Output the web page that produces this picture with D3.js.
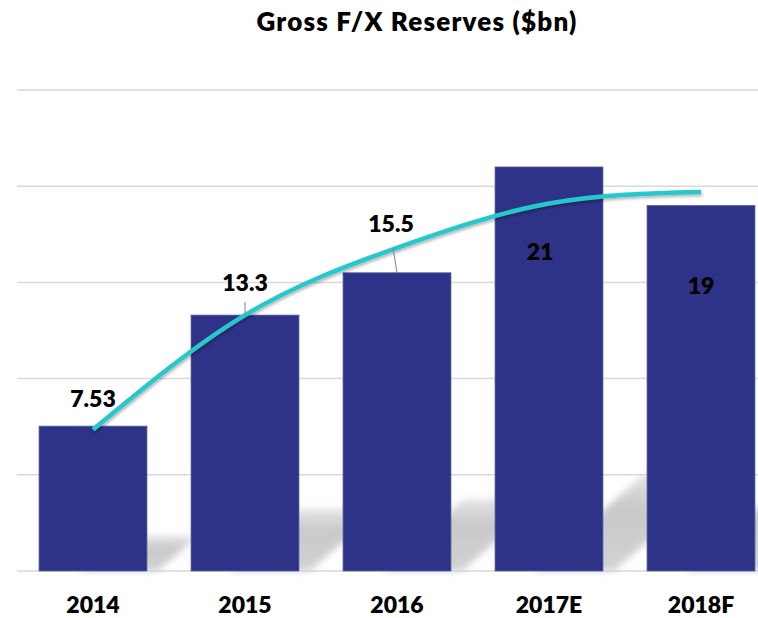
<!DOCTYPE html>
<html>
<head>
<meta charset="utf-8">
<script src="https://cdn.jsdelivr.net/npm/d3@7"></script>
<style>
  html, body { margin: 0; padding: 0; background: #fff; }
  svg { display: block; font-family: Lato, "Open Sans", sans-serif; }
</style>
</head>
<body>
<div id="chart"></div>
<script>
const width = 758;
const height = 618;

// data
const years = ["2014", "2015", "2016", "2017E", "2018F"];
const reserves = [7.53, 13.3, 15.5, 21, 19];
const valueLabels = ["7.53", "13.3", "15.5", "21", "19"];
const trend = [7.35, 13.3, 16.8, 19.1, 19.7];
const gridTicks = [0, 5, 10, 15, 20, 25];

const colors = {
  bar: "#2e3387",
  barEdge: "#5b60a6",
  trend: "#27c8cb",
  grid: "#d9d9d9",
  leader: "#7f7f7f"
};

const svg = d3.select("#chart")
  .append("svg")
  .attr("width", width)
  .attr("height", height);

const defs = svg.append("defs");

const grad = defs.append("linearGradient")
  .attr("id", "shadow-grad")
  .attr("x1", 0).attr("y1", 0).attr("x2", 0).attr("y2", 1);
grad.append("stop").attr("offset", "0%").attr("stop-color", "#cfcfcf").attr("stop-opacity", 0.6);
grad.append("stop").attr("offset", "35%").attr("stop-color", "#c9c9c9");
grad.append("stop").attr("offset", "100%").attr("stop-color", "#d2d2d2");

defs.append("filter")
  .attr("id", "blur")
  .attr("x", "-20%").attr("y", "-20%").attr("width", "140%").attr("height", "140%")
  .append("feGaussianBlur")
  .attr("stdDeviation", 3.5);

defs.append("filter")
  .attr("id", "line-shadow")
  .attr("x", "-5%").attr("y", "-20%").attr("width", "110%").attr("height", "140%")
  .append("feDropShadow")
  .attr("dx", 1).attr("dy", 2)
  .attr("stdDeviation", 1.5)
  .attr("flood-color", "#000")
  .attr("flood-opacity", 0.3);

const x = d3.scaleBand()
  .domain(years)
  .range([17, 777])
  .paddingInner(0.29)
  .paddingOuter(0.145);

const y = d3.scaleLinear()
  .domain([0, 25])
  .range([571, 90]);

const data = years.map((year, i) => ({
  year,
  value: reserves[i],
  label: valueLabels[i],
  trend: trend[i]
}));

// title
svg.append("text")
  .attr("x", 417)
  .attr("y", 31)
  .attr("text-anchor", "middle")
  .attr("font-size", 26)
  .attr("font-weight", 800)
  .attr("letter-spacing", 1.2)
  .attr("fill", "#000")
  .text("Gross F/X Reserves ($bn)");

// gridlines
svg.append("g")
  .selectAll("line")
  .data(gridTicks)
  .join("line")
  .attr("x1", 17)
  .attr("x2", width)
  .attr("y1", d => y(d))
  .attr("y2", d => y(d))
  .attr("stroke", colors.grid)
  .attr("stroke-width", 1.5);

// soft cast shadows behind the bars
svg.append("g")
  .attr("filter", "url(#blur)")
  .selectAll("path")
  .data(data)
  .join("path")
  .attr("fill", "url(#shadow-grad)")
  .attr("d", d => {
    const bw = x.bandwidth();
    const x0 = x(d.year) + bw * 0.35;
    const x1 = x(d.year) + bw * 1.1;
    const base = y(0);
    const h = (y(0) - y(d.value)) * 0.24;
    const dx = h * 1.15;
    return `M${x0},${base}L${x1},${base}L${x1 + dx},${base - h}L${x0 + dx},${base - h}Z`;
  });

// bars
svg.append("g")
  .selectAll("rect")
  .data(data)
  .join("rect")
  .attr("x", d => x(d.year))
  .attr("y", d => y(d.value))
  .attr("width", x.bandwidth())
  .attr("height", d => y(0) - y(d.value))
  .attr("fill", colors.bar)
  .attr("stroke", colors.barEdge)
  .attr("stroke-width", 0.8);

// trend line
const line = d3.line()
  .x(d => x(d.year) + x.bandwidth() / 2)
  .y(d => y(d.trend))
  .curve(d3.curveNatural);

svg.append("path")
  .datum(data)
  .attr("fill", "none")
  .attr("stroke", colors.trend)
  .attr("stroke-width", 4.5)
  .attr("filter", "url(#line-shadow)")
  .attr("d", line);

// value labels (placed as in the source chart)
const labelPos = [
  { dx: 0, y: 407, leader: null },
  { dx: 0, y: 291, leader: [0, 302, 0, 315] },
  { dx: -6, y: 232, leader: [-4, 248, 0, 272] },
  { dx: -9, y: 260, leader: null },
  { dx: 0, y: 294, leader: null }
];

svg.append("g")
  .selectAll("line")
  .data(data.filter((d, i) => labelPos[i].leader))
  .join("line")
  .each(function(d) {
    const i = years.indexOf(d.year);
    const cx = x(d.year) + x.bandwidth() / 2;
    const l = labelPos[i].leader;
    d3.select(this)
      .attr("x1", cx + l[0]).attr("y1", l[1])
      .attr("x2", cx + l[2]).attr("y2", y(d.value));
  })
  .attr("stroke", colors.leader)
  .attr("stroke-width", 1);

svg.append("g")
  .selectAll("text")
  .data(data)
  .join("text")
  .attr("x", (d, i) => x(d.year) + x.bandwidth() / 2 + labelPos[i].dx)
  .attr("y", (d, i) => labelPos[i].y)
  .attr("text-anchor", "middle")
  .attr("font-size", 23)
  .attr("font-weight", 800)
  .attr("fill", "#000")
  .text(d => d.label);

// category axis labels
svg.append("g")
  .selectAll("text")
  .data(years)
  .join("text")
  .attr("x", d => x(d) + x.bandwidth() / 2)
  .attr("y", 613)
  .attr("text-anchor", "middle")
  .attr("font-size", 23)
  .attr("font-weight", 800)
  .attr("fill", "#000")
  .text(d => d);
</script>
</body>
</html>
